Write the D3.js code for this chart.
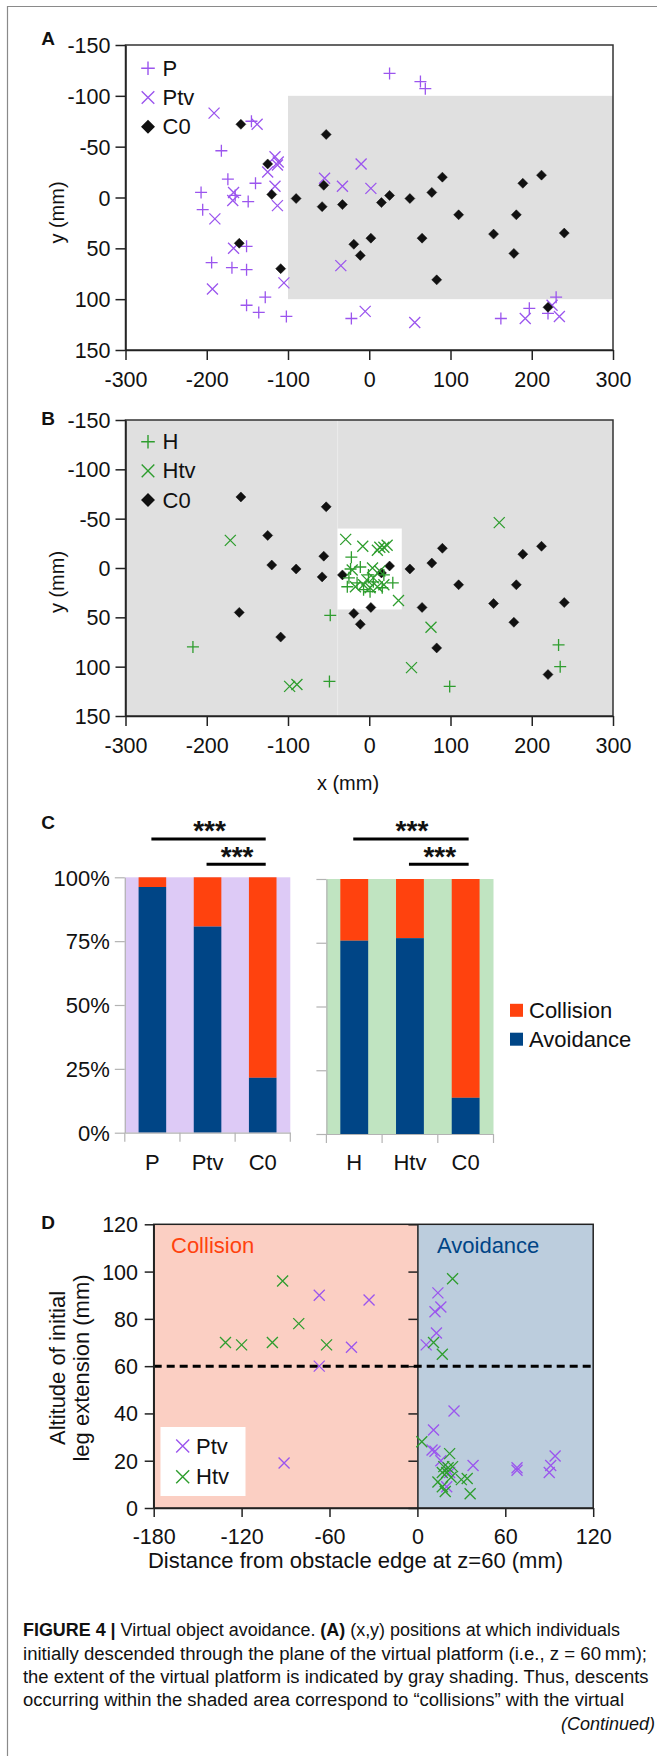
<!DOCTYPE html>
<html><head><meta charset="utf-8">
<script src="https://cdn.jsdelivr.net/npm/d3@7"></script>
<style>body{margin:0;background:#fff} text{font-family:"Liberation Sans",Arial,sans-serif;fill:#111}</style>
</head><body><svg id="c" width="657" height="1756"></svg>
<script>
// ---------- DATA ----------
const xTicksAB = [-300,-200,-100,0,100,200,300];
const yTicksAB = [-150,-100,-50,0,50,100,150];
// Panel A
const P_x = [25,63,69,-145,-182,-174,-140,-207,-205,-165,-149,-151,-194,-169,-151,-128,-151,-136,-102,-22,162,197,230,220];
const P_y = [-122,-114,-107,-75,-46,-18,-14,-5,12,-2,4,48,64,69,71,98,106,113,117,119,119,109,98,114];
const Ptv_x = [-191,-138,-116,-112,-113,-125,-116,-167,-168,-113,-190,-167,-105,-193,-55,-33,-10,2,-35,-5,56,192,225,234];
const Ptv_y = [-83,-72,-40,-35,-32,-25,-11,-5,3,8,21,50,84,90,-19,-11,-33,-9,67,112,123,119,106,117];
const C0_x = [-158,-53,-125,-120,-90,-56,-58,-33,15,25,50,77,90,110,153,181,189,212,240,178,83,65,2,-19,-11,-160,-109,220];
const C0_y = [-72,-62,-33,-3,1,-12,9,7,5,-2,1,-5,-20,17,36,17,-14,-22,35,55,81,40,40,46,57,45,70,108];
// Panel B
const H_x = [-217,-48,-49,99,233,235,-22,29,-11,-23,-25,-27,-15,-1,5,16,-7,18,1];
const H_y = [80,48,115,120,78,100,-11,15,-1,1,10,19,15,7,14,20,22,7,24];
const Htv_x = [-171,160,-29,-8,13,22,10,18,-21,4,13,-17,-7,1,10,18,36,-3,5,76,52,-98,-89];
const Htv_y = [-28,-46,-29,-22,-21,-23,-18,-21,2,0,3,19,17,20,19,17,33,12,10,60,101,120,118];
// Panel C
const catsP = ["P","Ptv","C0"];
const avoidP = [96.2,80.7,21.5];
const catsH = ["H","Htv","C0"];
const avoidH = [75.8,76.8,14.2];
const pctTicks = [0,25,50,75,100];
// Panel D
const dTicksX = [-180,-120,-60,0,60,120];
const dTicksY = [0,20,40,60,80,100,120];
const DPtv_d = [-67,-33,-45,-67,-91,14,16,12,13,6,25,11,10,12,16,20,38,68,68,90,91,94,22];
const DPtv_a = [90,88,68,60,19,91,85,83,74,69,41,33,24.5,24,20,9,18,17,16,15,18,22,15];
const DHtv_d = [-92,-81,-131,-120,-99,-62,24,11,17,3,22,18,21,24,20,23,14,17,19,30,34,36,17];
const DHtv_a = [96,78,70,69,70,69,97,70,65,28,23,17.5,17,17.5,15,13,11,9,7,12,12.5,6,15];
const threshold = 60;

// ---------- STYLE ----------
const PURPLE = "#9b55ee", GREEN = "#2e9d2e", BLACK = "#111";
const ORANGE = "#ff420e", BLUE = "#004586";
const TICKFS = 21.5;
const fmt = d => String(d);
const svg = d3.select("#c");
svg.append("rect").attr("width",657).attr("height",1756).attr("fill","#fff");
svg.append("path").attr("d","M7.5,1756V6.5H657").attr("fill","none").attr("stroke","#8a8a8a").attr("stroke-width",1.2);

const plusPath = s => `M${-s},0H${s}M0,${-s}V${s}`;
const crossPath = s => `M${-s},${-s}L${s},${s}M${-s},${s}L${s},${-s}`;
const diamPath = s => `M0,${-s}L${s},0L0,${s}L${-s},0Z`;

function marks(g, xs, ys, xS, yS, type, color, s){
  const data = xs.map((v,i)=>[v,ys[i]]);
  g.selectAll(null).data(data).enter().append("path")
    .attr("transform",d=>`translate(${xS(d[0])},${yS(d[1])})`)
    .attr("d", type==="plus"?plusPath(s):type==="cross"?crossPath(s):diamPath(s))
    .attr("fill", type==="diam"?color:"none")
    .attr("stroke", color).attr("stroke-width", type==="diam"?0.5:1.3);
}
function styleAxis(g, col, fs){
  g.select(".domain").attr("stroke",col).attr("stroke-width",1.5);
  g.selectAll(".tick line").attr("stroke",col).attr("stroke-width",1.5);
  g.selectAll(".tick text").attr("font-size",fs).attr("fill","#111")
    .style("font-family","Liberation Sans, Arial, sans-serif");
}
function panelLabel(t,x,y){
  svg.append("text").attr("x",x).attr("y",y).attr("text-anchor","middle")
    .attr("dominant-baseline","central").attr("font-size",19).attr("font-weight","bold").text(t);
}

// ---------- PANELS A & B ----------
function scatter(top, bottom, kind){
  const x = d3.scaleLinear().domain([-300,300]).range([125.5,613]);
  const y = d3.scaleLinear().domain([-150,150]).range([top,bottom]);
  const g = svg.append("g");
  if(kind==="A"){
    g.append("rect").attr("x",x(-100)).attr("y",y(-100)).attr("width",x(300)-x(-100)).attr("height",y(100)-y(-100)).attr("fill","#e0e0e0");
  } else {
    g.append("rect").attr("x",x(-300)).attr("y",y(-150)).attr("width",x(300)-x(-300)).attr("height",y(150)-y(-150)).attr("fill","#e0e0e0");
    g.append("line").attr("x1",x(-39)).attr("x2",x(-39)).attr("y1",y(-150)).attr("y2",y(150)).attr("stroke","#ebebeb").attr("stroke-width",1);
    g.append("rect").attr("x",x(-39)).attr("y",y(-40)).attr("width",x(40)-x(-39)).attr("height",y(42)-y(-40)).attr("fill","#fff");
  }
  g.append("rect").attr("x",x(-300)).attr("y",y(-150)).attr("width",x(300)-x(-300)).attr("height",y(150)-y(-150))
    .attr("fill","none").attr("stroke","#333").attr("stroke-width",1.5);
  const ax = g.append("g").attr("transform",`translate(0,${bottom})`)
    .call(d3.axisBottom(x).tickValues(xTicksAB).tickSize(10).tickSizeOuter(0).tickFormat(fmt));
  styleAxis(ax,"#222",TICKFS);
  ax.selectAll(".tick text").attr("y",29).attr("dy","0.35em");
  const ay = g.append("g").attr("transform",`translate(${x(-300)},0)`)
    .call(d3.axisLeft(y).tickValues(yTicksAB).tickSize(10).tickSizeOuter(0).tickFormat(fmt));
  styleAxis(ay,"#222",TICKFS);
  ay.selectAll(".tick text").attr("x",-15).attr("dy","0.35em");
  const ty = (top+bottom)/2 + (kind==="A"?15:14);
  g.append("text").attr("transform",`translate(57,${ty}) rotate(-90)`).attr("text-anchor","middle")
    .attr("dominant-baseline","central").attr("font-size",20).text("y (mm)");
  if(kind==="A"){
    marks(g,P_x,P_y,x,y,"plus",PURPLE,6);
    marks(g,Ptv_x,Ptv_y,x,y,"cross",PURPLE,5.5);
    marks(g,C0_x,C0_y,x,y,"diam",BLACK,5);
  } else {
    marks(g,C0_x,C0_y,x,y,"diam",BLACK,5);
    marks(g,H_x,H_y,x,y,"plus",GREEN,6);
    marks(g,Htv_x,Htv_y,x,y,"cross",GREEN,5.5);
  }
  // legend
  const names = kind==="A"?["P","Ptv","C0"]:["H","Htv","C0"];
  const col = kind==="A"?PURPLE:GREEN;
  const ly0 = kind==="A"?68.3:441.7;
  names.forEach((n,i)=>{
    const yy = ly0 + i*29.2;
    const t = i===0?"plus":i===1?"cross":"diam";
    g.append("path").attr("transform",`translate(148,${yy})`)
      .attr("d", t==="plus"?plusPath(6.8):t==="cross"?crossPath(6.3):diamPath(6))
      .attr("fill", t==="diam"?BLACK:"none").attr("stroke", t==="diam"?BLACK:col).attr("stroke-width",1.4);
    g.append("text").attr("x",162.5).attr("y",yy).attr("dominant-baseline","central").attr("font-size",22).text(n);
  });
  return {x,y};
}
panelLabel("A",48,38.5);
scatter(45,350,"A");
panelLabel("B",48,418);
scatter(420,716,"B");
svg.append("text").attr("x",348).attr("y",783).attr("text-anchor","middle").attr("dominant-baseline","central")
  .attr("font-size",20).text("x (mm)");

// ---------- PANEL C ----------
panelLabel("C",48,822);
function stack(x0,x1,yb,yt,cats,vals,bg,showLabels){
  const xb = d3.scaleBand().domain(cats).range([x0,x1]).paddingInner(0.5).paddingOuter(0.25);
  const y = d3.scaleLinear().domain([0,100]).range([yb,yt]);
  const g = svg.append("g");
  g.append("rect").attr("x",x0).attr("y",yt).attr("width",x1-x0).attr("height",yb-yt).attr("fill",bg);
  cats.forEach((c,i)=>{
    g.append("rect").attr("x",xb(c)).attr("width",xb.bandwidth()).attr("y",y(100)).attr("height",y(vals[i])-y(100)).attr("fill",ORANGE);
    g.append("rect").attr("x",xb(c)).attr("width",xb.bandwidth()).attr("y",y(vals[i])).attr("height",y(0)-y(vals[i])).attr("fill",BLUE);
  });
  const ay = g.append("g").attr("transform",`translate(${x0},0)`)
    .call(d3.axisLeft(y).tickValues(pctTicks).tickSize(10).tickSizeOuter(0).tickFormat(d=>showLabels?d+"%":""));
  styleAxis(ay,"#b3b3b3",22);
  ay.select(".domain").attr("stroke-width",1.2);
  ay.selectAll(".tick line").attr("stroke-width",1.2);
  ay.selectAll(".tick text").attr("x",-15).attr("dy","0.35em");
  const ax = g.append("g").attr("transform",`translate(0,${yb})`)
    .call(d3.axisBottom(xb).tickSize(0).tickSizeOuter(0));
  styleAxis(ax,"#b3b3b3",22);
  ax.select(".domain").attr("stroke-width",1.2);
  ax.selectAll(".tick text").attr("y",1162-yb).attr("dy","0.35em");
  // boundary ticks
  const step = xb.step();
  const bounds = [0,1,2,3].map(i=>x0+i*step);
  g.selectAll(null).data(bounds).enter().append("line")
    .attr("x1",d=>d).attr("x2",d=>d).attr("y1",yb).attr("y2",yb+9).attr("stroke","#b3b3b3").attr("stroke-width",1.2);
  // significance
  const c = k => xb(cats[k]) + xb.bandwidth()/2;
  [[0,2,839,830.5],[1,2,864.3,856.5]].forEach(([a,b,ly,sy])=>{
    g.append("line").attr("x1",c(a)-1).attr("x2",c(b)+3).attr("y1",ly).attr("y2",ly).attr("stroke","#000").attr("stroke-width",3);
    g.append("text").attr("x",(c(a)+c(b))/2+2).attr("y",sy+9.5).attr("text-anchor","middle")
      .attr("font-size",28).attr("font-weight","bold").text("***");
  });
  return {xb,y};
}
stack(124.8,290.3,1132.7,877.3,catsP,avoidP,"#ddcaf6",true);
stack(326.4,493.5,1134,879,catsH,avoidH,"#c0e4c1",false);
// legend C
[["Collision",ORANGE,1010.3],["Avoidance",BLUE,1039.2]].forEach(([t,c,yy])=>{
  svg.append("rect").attr("x",510).attr("y",yy-6.5).attr("width",13).attr("height",13).attr("fill",c);
  svg.append("text").attr("x",529).attr("y",yy).attr("dominant-baseline","central").attr("font-size",22).text(t);
});

// ---------- PANEL D ----------
panelLabel("D",48,1222);
(function(){
  const x = d3.scaleLinear().domain([-180,120]).range([153.7,593.2]);
  const y = d3.scaleLinear().domain([0,120]).range([1508,1224.3]);
  const g = svg.append("g");
  g.append("rect").attr("x",x(-180)).attr("y",y(120)).attr("width",x(0)-x(-180)).attr("height",y(0)-y(120)).attr("fill","#fbcfc3");
  g.append("rect").attr("x",x(0)).attr("y",y(120)).attr("width",x(120)-x(0)).attr("height",y(0)-y(120)).attr("fill","#bccddd");
  g.append("rect").attr("x",x(-180)).attr("y",y(120)).attr("width",x(120)-x(-180)).attr("height",y(0)-y(120))
    .attr("fill","none").attr("stroke","#222").attr("stroke-width",1.5);
  const a0 = g.append("g").attr("transform",`translate(${x(0)},0)`)
    .call(d3.axisLeft(y).tickValues(dTicksY).tickSize(9).tickSizeOuter(0).tickFormat(""));
  styleAxis(a0,"#222",0);
  g.append("text").attr("x",171).attr("y",1245).attr("dominant-baseline","central").attr("font-size",22).style("fill",ORANGE).text("Collision");
  g.append("text").attr("x",437).attr("y",1245).attr("dominant-baseline","central").attr("font-size",22).style("fill",BLUE).text("Avoidance");
  g.append("line").attr("x1",x(-180)).attr("x2",x(120)).attr("y1",y(threshold)).attr("y2",y(threshold))
    .attr("stroke","#000").attr("stroke-width",3).attr("stroke-dasharray","8,5");
  marks(g,DPtv_d,DPtv_a,x,y,"cross",PURPLE,5.5);
  marks(g,DHtv_d,DHtv_a,x,y,"cross",GREEN,5.5);
  const ax = g.append("g").attr("transform",`translate(0,${y(0)})`)
    .call(d3.axisBottom(x).tickValues(dTicksX).tickSize(9).tickSizeOuter(0).tickFormat(fmt));
  styleAxis(ax,"#222",TICKFS);
  ax.selectAll(".tick text").attr("y",1536.7-1508).attr("dy","0.35em");
  const ay = g.append("g").attr("transform",`translate(${x(-180)},0)`)
    .call(d3.axisLeft(y).tickValues(dTicksY).tickSize(9).tickSizeOuter(0).tickFormat(fmt));
  styleAxis(ay,"#222",TICKFS);
  ay.selectAll(".tick text").attr("x",-15.7).attr("dy","0.35em");
  g.append("rect").attr("x",160.5).attr("y",1427).attr("width",85).attr("height",69).attr("fill","#fff");
  [["Ptv",PURPLE,1446],["Htv",GREEN,1476.7]].forEach(([t,c,yy])=>{
    g.append("path").attr("transform",`translate(182.7,${yy})`).attr("d",crossPath(6.5)).attr("fill","none").attr("stroke",c).attr("stroke-width",1.4);
    g.append("text").attr("x",196).attr("y",yy).attr("dominant-baseline","central").attr("font-size",22).text(t);
  });
  g.append("text").attr("transform","translate(57.8,1368) rotate(-90)").attr("text-anchor","middle").attr("dominant-baseline","central").attr("font-size",22).text("Altitude of initial");
  g.append("text").attr("transform","translate(81.7,1368) rotate(-90)").attr("text-anchor","middle").attr("dominant-baseline","central").attr("font-size",22).text("leg extension (mm)");
  g.append("text").attr("x",355.5).attr("y",1560).attr("text-anchor","middle").attr("dominant-baseline","central").attr("font-size",22).text("Distance from obstacle edge at z=60 (mm)");
})();

// ---------- CAPTION ----------
const capFont = "'Liberation Sans Narrow','Liberation Sans',Arial,sans-serif";
function capLine(y, parts, len){
  const t = svg.append("text").attr("x",23).attr("y",y).attr("font-size",18).style("font-family",capFont)
    .attr("textLength",len).attr("lengthAdjust","spacingAndGlyphs");
  parts.forEach(p=>{
    const s = t.append("tspan").text(p[0]);
    if(p[1]) s.attr("font-weight","bold");
  });
}
capLine(1636.3,[["FIGURE 4 | ",1],["Virtual object avoidance. ",0],["(A)",1],[" (x,y) positions at which individuals",0]],597);
capLine(1659.6,[["initially descended through the plane of the virtual platform (i.e., z = 60\u2009mm);",0]],624);
capLine(1683,[["the extent of the virtual platform is indicated by gray shading. Thus, descents",0]],625.5);
capLine(1706.3,[["occurring within the shaded area correspond to \u201ccollisions\u201d with the virtual",0]],601);
svg.append("text").attr("x",655).attr("y",1729.6).attr("text-anchor","end").attr("font-size",18)
  .attr("font-style","italic").style("font-family",capFont).text("(Continued)");
</script></body></html>
